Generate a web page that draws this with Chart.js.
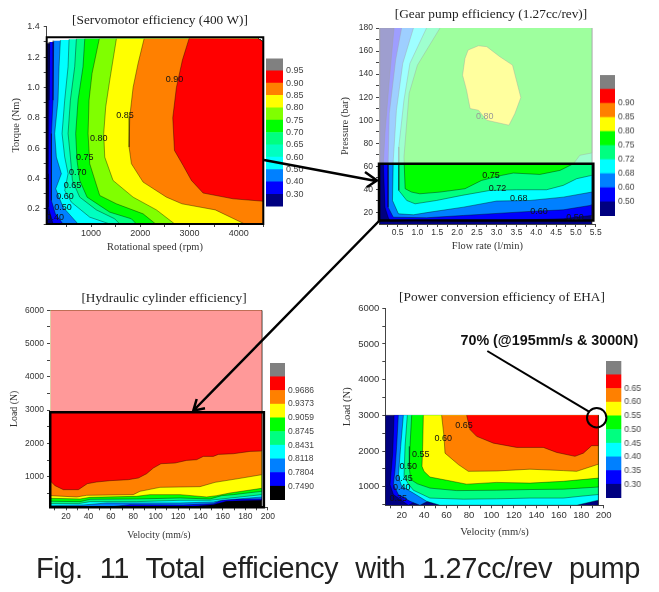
<!DOCTYPE html>
<html><head><meta charset="utf-8">
<script src="https://cdn.jsdelivr.net/npm/chart.js@4"></script>
<style>
html,body{margin:0;padding:0;background:#fff;overflow:hidden;width:659px;height:592px}
canvas{position:absolute}
#overlay{position:absolute;left:0;top:0}
#note{position:absolute;left:460.5px;top:332px;font:bold 14.3px "Liberation Sans",sans-serif;white-space:nowrap;color:#111}
#cap{position:absolute;left:36px;top:552px;width:604px;font:29px "Liberation Sans",sans-serif;letter-spacing:-0.4px;text-align:justify;text-align-last:justify;color:#222;white-space:normal}
</style></head><body>
<script>
// ---------- categories / tick labels ----------
const bar1Labels = ['0.30','0.40','0.50','0.60','0.65','0.70','0.75','0.80','0.85','0.90','0.95'];
const bar2Labels = ['0.50','0.60','0.68','0.72','0.75','0.80','0.85','0.90',''];
const bar3Labels = ['0.7490','0.7804','0.8118','0.8431','0.8745','0.9059','0.9373','0.9686',''];
const bar4Labels = ['0.30','0.35','0.40','0.45','0.50','0.55','0.60','0.65',''];
const palette12 = ['#000080','#0000ff','#0080ff','#00ffff','#00ffc0','#00ff80','#00ff00','#80ff00','#ffff00','#ff8000','#ff0000','#808080'];
const palette10 = ['#000080','#0000ff','#0080ff','#00ffff','#00ff80','#00ff00','#ffff00','#ff8000','#ff0000','#808080'];
const palette10k = ['#000000','#0000ff','#0080ff','#00ffff','#00ff80','#00ff00','#ffff00','#ff8000','#ff0000','#808080'];

// ---------- Servomotor efficiency: iso-lines as [rpm, Nm] ----------
const motorBase = [[100,0.1],[100,1.29],[4400,1.32],[4500,1.30],[4500,0.1]];
const motor30 = [[161,1.30],[147,0.916],[134,0.431],[134,0.211],[229,0.1]];
const motor40 = [[242,1.308],[229,0.916],[195,0.696],[195,0.431],[195,0.255],[276,0.167],[432,0.1]];
const motor50 = [[378,1.312],[351,1.136],[330,0.916],[262,0.696],[296,0.541],[398,0.431],[283,0.332],[432,0.211],[737,0.1]];
const motor60 = [[554,1.317],[534,1.136],[466,0.916],[412,0.696],[466,0.541],[534,0.431],[466,0.321],[601,0.244],[974,0.145],[1381,0.1]];
const motor65 = [[703,1.32],[669,1.136],[581,0.916],[534,0.696],[581,0.541],[622,0.387],[771,0.277],[1109,0.193],[1482,0.134],[1584,0.1]];
const motor70 = [[873,1.32],[838,1.136],[737,0.916],[689,0.696],[716,0.519],[771,0.387],[920,0.277],[1381,0.178],[1821,0.134],[1922,0.1]];
const motor75 = [[1168,1.32],[1021,1.092],[960,0.916],[940,0.696],[974,0.497],[1177,0.288],[1516,0.233],[2058,0.167],[2315,0.1]];
const motor80 = [[1516,1.32],[1381,1.048],[1299,0.872],[1258,0.696],[1279,0.541],[1448,0.387],[1855,0.277],[2329,0.193],[2702,0.1]];
const motor85 = [[2078,1.32],[1956,1.158],[1855,1.0],[1787,0.806],[1774,0.607],[1821,0.497],[2058,0.376],[2532,0.277],[2848,0.233],[3525,0.193],[4122,0.1]];
const motor90 = [[2993,1.323],[2857,1.18],[2735,1.0],[2661,0.80],[2695,0.585],[2871,0.486],[3040,0.387],[3277,0.304],[3887,0.266],[4500,0.25]];
const motorLabels = [['0.90',2695,1.052],['0.85',1692,0.815],['0.80',1157,0.66],['0.75',872,0.541],['0.70',730,0.438],['0.65',622,0.352],['0.60',473,0.284],['0.50',432,0.211],['0.40',276,0.145]];

// ---------- Gear pump efficiency: iso-lines as [l/min, bar] ----------
const pumpBase = [[0.054,10],[0.054,180],[5.4,180],[5.4,10]];
const pump50 = [[0.41,180],[0.29,134.8],[0.18,88.4],[0.14,62.3],[0.18,24.6],[0.26,15.9],[0.31,12.5],[0.9,11.3],[1.57,11.9],[3.0,13],[4.68,14.5],[5.4,17.4]];
const pump60 = [[0.6,180],[0.45,152.2],[0.29,105.8],[0.26,62.3],[0.26,24.6],[0.39,15.9],[1.23,15.4],[2.16,17.4],[3.84,20.9],[4.68,22.3],[5.36,26.1],[5.4,27]];
const pump68 = [[0.9,180],[0.63,149.3],[0.47,108.7],[0.39,65.2],[0.37,30.4],[0.52,18.8],[0.9,18],[1.32,20.3],[2.16,24.6],[3.0,29.9],[3.84,30.4],[4.68,33.3],[5.4,37.7]];
const pump72 = [[1.23,180],[0.81,149.3],[0.66,117.4],[0.53,76.8],[0.53,39.1],[0.73,30.4],[0.94,27.5],[1.48,30.4],[2.12,34.8],[2.83,39.1],[3.5,39.7],[4.26,39.7],[4.68,43.5],[5.02,49.3],[5.4,52.2]];
const pump75 = [[1.57,180],[1.0,147.8],[0.79,123.2],[0.66,68.1],[0.69,40.6],[0.85,37.7],[1.06,36.2],[1.57,37.7],[2.2,40.6],[2.62,47.8],[3.13,52.2],[3.42,54.2],[4.09,53],[4.6,56.5],[4.94,62.3],[5.1,69.6],[5.4,71.6]];
const pump80 = [[2.54,164.6],[2.28,160.9],[2.2,153.6],[2.14,139.1],[2.24,126.1],[2.33,110.1],[2.54,108.7],[2.75,100],[3.31,95.7],[3.46,105.8],[3.61,119.7],[3.4,147.8],[3.08,155.1],[2.75,163.8],[2.54,164.6]];
const pumpLabels = [['0.75',2.86,52.2],['0.72',3.02,41.2],['0.68',3.56,31.9],['0.60',4.07,20.9],['0.50',4.98,15.9],['0.80',2.7,103.2,'#999']];

// ---------- Hydraulic cylinder efficiency: iso-lines as [mm/s, N] ----------
const cylBase = [[6.3,80],[6.3,6000],[194.5,6000],[194.5,80]];
const cyl7490 = [[6.3,80],[124.6,80],[151.4,160],[163.3,260],[194.5,290]];
const cyl7804 = [[6.3,80],[56.3,80],[77.1,160],[124.6,150],[151.4,190],[161.8,330],[194.5,330]];
const cyl8118 = [[6.3,130],[35.5,150],[56.3,210],[121.7,210],[151.4,240],[158.8,290],[194.5,390]];
const cyl8431 = [[6.3,190],[31,190],[41.4,250],[83,250],[121.7,290],[148.4,290],[158.8,330],[194.5,460]];
const cyl8745 = [[6.3,260],[32.5,250],[41.4,320],[83,330],[121.7,360],[148.4,330],[158.8,430],[169.2,460],[194.5,560]];
const cyl9059 = [[6.3,350],[32.5,330],[41.4,380],[83,410],[94.9,460],[121.7,460],[145.4,390],[154.4,430],[166.3,510],[194.5,650]];
const cyl9373 = [[6.3,430],[29.5,390],[38.4,440],[80,460],[86,560],[103.8,680],[139.5,700],[152.9,830],[175.2,950],[194.5,1060]];
const cyl9686 = [[6.3,860],[10.2,730],[17.6,610],[31,610],[39,790],[47.3,840],[59.2,880],[75.6,910],[84.5,960],[91.9,1090],[97.9,1260],[104.7,1390],[117.2,1410],[127.6,1490],[136.5,1510],[142.5,1610],[151.4,1610],[155.9,1670],[169.2,1690],[184.1,1760],[194.5,1770]];

// ---------- Power conversion efficiency of EHA: iso-lines as [mm/s, N] ----------
const ehaBase = [[5.4,480],[5.4,3000],[195.2,3000],[195.2,480]];
const eha30 = [[13.2,3000],[12,1940],[9.6,1060],[12.6,780],[25.9,480]];
const eha35 = [[17,3000],[15.5,2130],[14.1,1480],[12.6,1060],[17,780],[27.4,590],[36.3,480]];
const eha40 = [[21.5,3000],[19.1,2130],[17,1290],[20,1010],[30.4,820],[42.3,590],[54.2,480],[175.9,480],[195.2,620]];
const eha45 = [[25,3000],[23,2130],[22.1,1290],[25.9,1080],[30.4,900],[45.2,680],[74.9,650],[104.6,660],[134.3,680],[164,680],[178.9,730],[195.2,780]];
const eha50 = [[28.9,3000],[27.4,2130],[26.8,1520],[28,1200],[34,1080],[45.2,960],[69,890],[104.6,900],[134.3,920],[164,930],[195.2,990]];
const eha55 = [[39.3,3000],[38.7,2130],[38.1,1570],[39.9,1430],[45.2,1270],[60.1,1180],[77.9,1070],[104.6,1120],[134.3,1100],[164,1150],[195.2,1240]];
const eha60 = [[55.6,3000],[57.7,2410],[58.6,1940],[70.5,1620],[79.4,1430],[104.6,1440],[134.3,1490],[164,1450],[175.9,1430],[195.2,1630]];
const eha65 = [[77.9,3000],[80.9,2600],[86.8,2410],[101.7,2220],[122.5,2100],[146.2,2100],[158.1,1960],[174.4,1850],[181.9,1940],[189.3,2150],[195.2,2150]];
const ehaLabels = [['0.65',75.5,2720],['0.60',57.1,2360],['0.55',36.9,1900],['0.50',25.9,1570],['0.45',22.1,1220],['0.40',20,990],['0.35',17,680]];

// ---------- helpers ----------
const pts = a => a.map(p => ({x:p[0], y:p[1]}));
const range = (a,b,s) => { const r=[]; for(let v=a; v<=b+1e-9; v+=s) r.push(+v.toFixed(4)); return r; };
const contourLabels = {
  id:'contourLabels',
  afterDatasetsDraw(c, _a, o){
    const ctx=c.ctx; ctx.save(); ctx.textAlign='center'; ctx.textBaseline='middle';
    ctx.font='9px "Liberation Sans"';
    (o.items||[]).forEach(l=>{ ctx.fillStyle=l[3]||'#111';
      ctx.fillText(l[0], c.scales.x.getPixelForValue(l[1]), c.scales.y.getPixelForValue(l[2])); });
    ctx.restore();
  }
};
const titleCentre = {
  id:'titleCentre',
  afterLayout(c, _a, o){ if(c.titleBlock){ c.titleBlock.left=0; c.titleBlock.right=o.width; } }
};
function band(curve, color, closure, line){
  return {type:'scatter', showLine:true, data:pts(curve.concat(closure||[])), backgroundColor:color,
    fill:'shape', borderColor:line||'rgba(0,0,0,.7)', borderWidth:0.55, pointRadius:0, tension:0};
}
function panel(p){
  const cv=document.createElement('canvas'); document.body.appendChild(cv);
  const W=p.R-p.L, H=p.B-p.T;
  cv.style.cssText=`left:${p.L}px;top:${p.T}px;width:${W}px;height:${H}px`; cv.width=W; cv.height=H;
  const th=p.titleSize*0.9;
  const ds=p.datasets.map((d,i)=>Object.assign({order:p.datasets.length-i},d));
  const axis=(o,t,fit,major,minor,fmt,pad)=>({type:'linear',min:o.min,max:o.max,
    title:{display:true,text:t,color:'#333',font:{family:'Liberation Serif',size:p.axisTitle,lineHeight:1.2},padding:o.tp||0},
    border:{color:'#444',width:1},
    grid:{drawOnChartArea:false,drawTicks:true,tickLength:3,tickColor:'#444'},
    ticks:{autoSkip:false,maxRotation:0,includeBounds:false,color:'#333',padding:pad,
      font:{family:'Liberation Sans',size:p.tickSize},
      callback:v=>major.some(m=>Math.abs(m-v)<1e-6)?fmt(v):''},
    afterBuildTicks:s=>{s.ticks=major.concat(minor).filter(v=>v>=o.min-1e-9&&v<=o.max+1e-9).sort((a,b)=>a-b).map(v=>({value:v}));},
    afterFit:fit});
  return new Chart(cv,{data:{datasets:ds},plugins:[contourLabels,titleCentre],options:{
    responsive:false,animation:false,
    layout:{autoPadding:false,padding:{left:0,top:0,bottom:0,right:p.R-p.plotR}},
    plugins:{legend:{display:false},tooltip:{enabled:false},
      contourLabels:{items:p.labels||[]},titleCentre:{width:W},
      title:{display:true,text:p.title,color:'#222',font:{family:'Liberation Serif',size:p.titleSize,weight:'normal',lineHeight:0.9},
        padding:{top:p.titleY-p.T-th/2,bottom:p.plotT-p.titleY-th/2}}},
    scales:{
      x:Object.assign(axis(p.x,p.xTitle,s=>{s.height=p.B-p.plotB;},p.xMajor,p.xMinor,p.xFmt,1),{position:'bottom'}),
      y:Object.assign(axis(p.y,p.yTitle,s=>{s.width=p.plotL-p.L;},p.yMajor,p.yMinor,p.yFmt,p.yPad||4),{position:'left'})
    }}});
}
function colorbar(b){
  const cv=document.createElement('canvas'); document.body.appendChild(cv);
  const W=b.R-b.L+42, H=b.B-b.T;
  cv.style.cssText=`left:${b.L}px;top:${b.T}px;width:${W}px;height:${H}px`; cv.width=W; cv.height=H;
  const n=b.colors.length;
  return new Chart(cv,{type:'bar',data:{labels:['c'],datasets:b.colors.map(c=>({data:[1],backgroundColor:c,borderWidth:0,barPercentage:1,categoryPercentage:1}))},
    options:{responsive:false,animation:false,layout:{autoPadding:false,padding:0},
      plugins:{legend:{display:false},tooltip:{enabled:false}},
      scales:{x:{display:false,stacked:true},
        y:{stacked:true,position:'right',min:0,max:n,border:{display:false},grid:{display:false,drawTicks:false,tickLength:0},
          afterBuildTicks:s=>{s.ticks=b.labels.map((_,i)=>({value:i+1}));},
          afterFit:s=>{s.width=42;},
          ticks:{autoSkip:false,color:'#444',padding:3,font:{family:'Liberation Sans',size:b.size},callback:v=>b.labels[v-1]}}}}});
}
const f1=v=>v.toFixed(1), f0=v=>String(v);
const rectLine=(x0,x1,y0,y1,w)=>({type:'scatter',showLine:true,data:pts([[x0,y0],[x0,y1],[x1,y1],[x1,y0],[x0,y0]]),borderColor:'#000',borderWidth:w,pointRadius:0,fill:false,clip:false,tension:0,borderCapStyle:'square'});
const veil=(x0,x1,y0,y1,a)=>({type:'scatter',showLine:true,data:pts([[x0,y0],[x0,y1],[x1,y1],[x1,y0]]),backgroundColor:`rgba(255,255,255,${a})`,fill:'shape',borderWidth:0,pointRadius:0,tension:0});

// ---------- panels ----------
const mc=[[4500,0.1],[4500,1.30],[4400,1.32]], mc90=[[4500,1.30],[4400,1.32]];
panel({L:0,R:320,T:0,B:254,plotL:46.7,plotR:263.3,plotT:26.7,plotB:224,titleY:20.7,titleSize:13.3,axisTitle:10.4,tickSize:9,
  title:'[Servomotor efficiency (400 W)]',xTitle:'Rotational speed (rpm)',yTitle:'Torque (Nm)',
  x:{min:100,max:4500},y:{min:0.1,max:1.4,tp:9.7},
  xMajor:[1000,2000,3000,4000],xMinor:[500,1500,2500,3500,4500],xFmt:f0,
  yMajor:range(0.2,1.4,0.2),yMinor:range(0.1,1.3,0.2),yFmt:f1,labels:motorLabels,
  datasets:[band(motorBase,palette12[0]),
    band(motor30,palette12[1],mc),band(motor40,palette12[2],mc),band(motor50,palette12[3],mc),band(motor60,palette12[4],mc),
    band(motor65,palette12[5],mc),band(motor70,palette12[6],mc),band(motor75,palette12[7],mc),band(motor80,palette12[8],mc),
    band(motor85,palette12[9],mc),band(motor90,palette12[10],mc90),rectLine(100,4500,0.1,1.33,2)]});
const pc=[[5.4,180]];
panel({L:330,R:652,T:0,B:253,plotL:379,plotR:595.7,plotT:28,plotB:224,titleY:15,titleSize:13.3,axisTitle:10.4,tickSize:8.5,yPad:3,
  title:'[Gear pump efficiency (1.27cc/rev)]',xTitle:'Flow rate (l/min)',yTitle:'Pressure (bar)',
  x:{min:0.03,max:5.5},y:{min:10,max:180,tp:9},
  xMajor:range(0.5,5.5,0.5),xMinor:range(0.25,5.25,0.5),xFmt:f1,
  yMajor:range(20,180,20),yMinor:range(30,170,20),yFmt:f0,labels:pumpLabels,
  datasets:[band(pumpBase,palette10[0]),band(pump50,palette10[1],pc),band(pump60,palette10[2],pc),band(pump68,palette10[3],pc),
    band(pump72,palette10[4],pc),band(pump75,palette10[5],pc),band(pump80,palette10[6]),veil(0.03,5.5,62.3,180,0.62),
    rectLine(0.03,5.44,13,62.3,2.5)]});
const cc=[[194.5,6000],[6.3,6000]];
panel({L:0,R:328,T:284,B:541.3,plotL:50,plotR:267.8,plotT:310.3,plotB:507.6,titleY:299,titleSize:13.3,axisTitle:9.8,tickSize:8.5,yPad:3,
  title:'[Hydraulic cylinder efficiency]',xTitle:'Velocity (mm/s)',yTitle:'Load (N)',
  x:{min:5.7,max:200},y:{min:80,max:6000,tp:9},
  xMajor:range(20,200,20),xMinor:range(10,190,20),xFmt:f0,
  yMajor:range(1000,6000,1000),yMinor:range(500,5500,1000),yFmt:f0,
  datasets:[band(cylBase,palette10k[0]),band(cyl7490,palette10k[1],cc),
    band(cyl7804,palette10k[2],cc),band(cyl8118,palette10k[3],cc),band(cyl8431,palette10k[4],cc),band(cyl8745,palette10k[5],cc),
    band(cyl9059,palette10k[6],cc),band(cyl9373,palette10k[7],cc),band(cyl9686,palette10k[8],cc),
    veil(5.7,194.5,2940,6000,0.6),rectLine(5.9,196.5,80,2940,2.5)]});
const ec=[[195.2,3000]];
panel({L:340,R:664,T:284,B:539.3,plotL:385.3,plotR:603.7,plotT:308.3,plotB:505.6,titleY:298,titleSize:13.3,axisTitle:10.6,tickSize:9.5,yPad:3,
  title:'[Power conversion efficiency of EHA]',xTitle:'Velocity (mm/s)',yTitle:'Load (N)',
  x:{min:5.4,max:200},y:{min:478,max:6000,tp:1.3},
  xMajor:range(20,200,20),xMinor:range(10,190,20),xFmt:f0,
  yMajor:range(1000,6000,1000),yMinor:range(500,5500,1000),yFmt:f0,labels:ehaLabels,
  datasets:[band(ehaBase,palette10[0]),band(eha30,palette10[1],ec),band(eha35,palette10[2],ec),band(eha40,palette10[3],ec),
    band(eha45,palette10[4],ec),band(eha50,palette10[5],ec),band(eha55,palette10[6],ec),band(eha60,palette10[7],ec),band(eha65,palette10[8],ec)]});

// ---------- colour bars ----------
colorbar({L:266,R:283.3,T:50,B:215,colors:palette12,labels:bar1Labels,size:9});
colorbar({L:600,R:615.3,T:67.3,B:224,colors:palette10,labels:bar2Labels,size:8.5});
colorbar({L:269.7,R:285.3,T:355,B:508.3,colors:palette10k,labels:bar3Labels,size:8.5});
colorbar({L:606,R:621.7,T:353,B:506,colors:palette10,labels:bar4Labels,size:8.5});
</script>
<svg id="overlay" width="659" height="592" fill="none" stroke="#000" stroke-width="2.5">
  <path d="M264 160 L376 181 M365 172 L377 180.5 L367 187"/>
  <path d="M380 220 L194 410 M196.7 399 L193.3 410.7 L205 408.3"/>
  <path d="M487.3 351 L589 411.7" stroke-width="2"/>
  <circle cx="596.7" cy="417.7" r="9.7" stroke-width="2"/>
</svg>
<div id="note">70% (@195mm/s &amp; 3000N)</div>
<div id="cap">Fig. 11 Total efficiency with 1.27cc/rev pump</div>
</body></html>
